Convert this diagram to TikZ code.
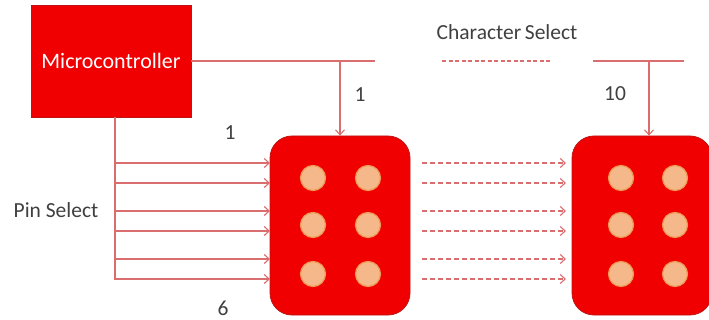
\documentclass[tikz,border=0pt]{standalone}
\usepackage{fontspec}
\setmainfont{Carlito}
\usetikzlibrary{arrows.meta}
\definecolor{boxred}{RGB}{240,0,0}
\definecolor{edgered}{RGB}{190,20,20}
\definecolor{wire}{RGB}{218,110,110}
\definecolor{dotfill}{RGB}{244,184,138}
\definecolor{dotedge}{RGB}{235,140,60}
\definecolor{txt}{RGB}{64,64,64}
\tikzset{
  mcu/.style={draw=edgered, fill=boxred, line width=0.8pt, minimum width=160pt, minimum height=112pt, inner sep=0pt, text=white, font=\fontsize{22}{26}\selectfont},
  cell/.style={draw=edgered, fill=boxred, line width=0.8pt, rounded corners=22pt, minimum width=140pt, minimum height=179pt, inner sep=0pt},
  dot/.style={circle, fill=dotfill, draw=dotedge!70!dotfill, line width=1.2pt, minimum size=25pt, inner sep=0pt},
  wireline/.style={draw=wire, line width=1.1pt},
  wirearrow/.style={wireline, -{Straight Barb[length=5pt, width=9pt]}},
  dasharrow/.style={wirearrow, dash pattern=on 5pt off 3pt},
  lbl/.style={text=txt, font=\fontsize{21.5}{25}\selectfont, inner sep=0pt},
}
\begin{document}
\begin{tikzpicture}[x=1pt, y=-1pt]
\useasboundingbox (0,0) rectangle (709,320);

% controller and the two braille cells
\node[mcu] (mc) at (111,61) {Microcontroller};
\node[cell] (c1) at (340,225.5) {};
\node[cell] (c2) at (642,225.5) {};

% six pins in each cell
\foreach \c/\xa/\xb in {c1/313/368, c2/621/675}{
  \foreach \r/\yy in {1/178, 2/225, 3/274}{
    \node[dot] (\c l\r) at (\xa,\yy) {};
    \node[dot] (\c r\r) at (\xb,\yy) {};
  }
}

% character select bus
\coordinate (busA) at (375,61);
\coordinate (dashA) at (442,61);
\coordinate (dashB) at (551,61);
\coordinate (busB) at (593,61);
\coordinate (busC) at (684,61);
\coordinate (tap1) at (340,61);
\coordinate (tap2) at (649,61);
\draw[wireline] (mc.east |- tap1) -- (busA);
\draw[wireline, dash pattern=on 4pt off 2.5pt] (dashA) -- (dashB);
\draw[wireline] (busB) -- (busC);
\draw[wirearrow] (tap1) -- (tap1 |- c1.north);
\draw[wirearrow] (tap2) -- (tap2 |- c2.north);

% pin select lines
\coordinate (trunk) at (115,280);
\draw[wireline] (mc.south -| trunk) -- (trunk);
\foreach \yy in {163,183,211,231,259,279}{
  \draw[wirearrow] (115,\yy) -- (270,\yy);
  \draw[dasharrow] (422,\yy) -- (566,\yy);
}

% labels
\node[lbl] (cs) at (507,32) {Character\,Select};
\node[lbl] (n1) at (360,95) {1};
\node[lbl] (n10) at (615,94) {10};
\node[lbl] (p1) at (230,133) {1};
\node[lbl] (p6) at (223,308) {6};
\node[lbl] (ps) at (56,210) {Pin Select};
\end{tikzpicture}
\end{document}
